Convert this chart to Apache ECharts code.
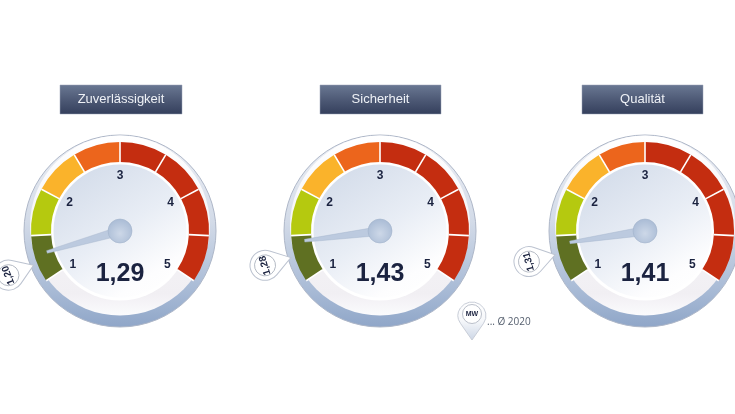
<!DOCTYPE html>
<html><head><meta charset="utf-8">
<style>html,body{margin:0;padding:0;background:#fff}#c{width:735px;height:414px}</style>
<script src="https://cdn.jsdelivr.net/npm/echarts@6/dist/echarts.min.js"></script>
</head><body><div id="c"></div>
<script>
const gaugeTitles = ['Zuverlässigkeit', 'Sicherheit', 'Qualität'];
const gaugeValues = [1.29, 1.43, 1.41];
const averageValues = [1.20, 1.28, 1.31];
const scaleLabels = [1, 2, 3, 4, 5];
const bandColors = ['#5f7022', '#b5c90f', '#fab32b', '#ec651c', '#c42d10', '#c42d10', '#c42d10', '#c42d10'];
const legendPin = 'MW';
const legendText = '... Ø 2020';

const centers = [[120, 231], [380, 231], [645, 231]];
const titleBoxes = [[60, 85, 122, 29], [320, 85, 121, 29], [582, 85, 121, 29]];
const FONT = '"Liberation Sans", Arial, sans-serif';
const comma = v => v.toFixed(2).replace('.', ',');
const lin = (x, y, x2, y2, stops) => ({type: 'linear', x, y, x2, y2,
  colorStops: stops.map(s => ({offset: s[0], color: s[1]}))});
const PIN = 'M0 0L-17.2 -11.6A14 14 0 1 0 -17.2 11.6Z';

const graphic = [];
centers.forEach((c, i) => {
  const [cx, cy] = c;
  const circle = (x, y, r, fill, stroke) => ({type: 'circle', silent: true, z: -10,
    shape: {cx: x, cy: y, r}, style: {fill, stroke: stroke || null, lineWidth: stroke ? 1 : 0}});
  graphic.push(
    circle(cx, cy, 96, lin(0, 0, 0, 1, [[0, '#eef0f5'], [.45, '#d3dbe8'], [.8, '#a9bbd6'], [1, '#8fa6c8']]), '#aeb7c8'),
    circle(cx, cy - 5.5, 90, lin(0, 0, 0, 1, [[0, '#ffffff'], [.55, '#f4f3f6'], [.88, '#f1eff3'], [1, '#fbfbfd']])),
    circle(cx, cy, 69.5, '#ffffff'),
    circle(cx, cy, 66.5, lin(.15, 0, .8, 1, [[0, '#d2dbe9'], [.5, '#e8edf5'], [.85, '#fdfdfe'], [1, '#ffffff']]))
  );
  const b = titleBoxes[i];
  graphic.push({type: 'rect', silent: true, z: -5,
    shape: {x: b[0], y: b[1], width: b[2], height: b[3]},
    style: {fill: lin(0, 0, 0, 1, [[0, '#6a7893'], [.5, '#4e5a76'], [1, '#343f5c']]), stroke: '#98a2b5', lineWidth: .5}});
  graphic.push({type: 'text', silent: true, z: -4, x: b[0] + b[2] / 2, y: b[1] + b[3] / 2,
    style: {text: gaugeTitles[i], fill: '#eef1f6', font: '13px ' + FONT, align: 'center', verticalAlign: 'middle'}});
});
graphic.push({type: 'text', silent: true, x: 487, y: 322,
  style: {text: legendText, font: '10px "Open Sans", sans-serif', fill: '#56606f', align: 'left', verticalAlign: 'middle'}});

const polar = [], angleAxis = [], radiusAxis = [], series = [];
centers.forEach((c, i) => {
  polar.push({center: c, radius: 96});
  angleAxis.push({polarIndex: i, type: 'value', min: 1, max: 5, startAngle: 214, endAngle: -34, show: false});
  radiusAxis.push({polarIndex: i, type: 'value', min: 0, max: 96, show: false});
  series.push({
    type: 'gauge', center: c, radius: 89, startAngle: 214, endAngle: -34, min: 1, max: 5, splitNumber: 8,
    axisLine: {lineStyle: {width: 20, color: bandColors.map((col, k) => [(k + 1) / bandColors.length, col])}},
    axisTick: {show: false},
    splitLine: {length: 20, distance: -20, lineStyle: {color: '#ffffff', width: 1.6}},
    axisLabel: {distance: 28, color: '#1b2340', fontFamily: FONT, fontWeight: 'bold', fontSize: 12,
      align: 'center', verticalAlign: 'middle',
      formatter: v => scaleLabels.includes(Math.round(v * 100) / 100) ? String(Math.round(v)) : ''},
    pointer: {icon: 'path://M3.5 0L6.5 0L10 100L0 100Z', length: 76, width: 9,
      itemStyle: {color: '#bccadf', borderColor: '#a3b3cb', borderWidth: .4}},
    anchor: {show: true, showAbove: true, size: 24, icon: 'circle',
      itemStyle: {color: {type: 'radial', x: .5, y: .6, r: .6, colorStops: [{offset: 0, color: '#cdd8e8'}, {offset: 1, color: '#a9bbd5'}]},
        borderColor: '#a3b3cb', borderWidth: .6}},
    title: {show: false},
    detail: {valueAnimation: false, offsetCenter: [0, 43], fontFamily: FONT, fontWeight: 'bold', fontSize: 25,
      color: '#1b2340', formatter: comma},
    data: [{value: gaugeValues[i]}],
    animation: false, silent: true
  });
  series.push({
    type: 'custom', coordinateSystem: 'polar', polarIndex: i, z: 5, silent: true, animation: false,
    data: [[93, averageValues[i]]],
    renderItem: (params, api) => {
      const v = api.value(1);
      const p = api.coord([api.value(0), v]);
      const theta = (214 - (v - 1) * 62) * Math.PI / 180;
      return {type: 'group', x: p[0], y: p[1], rotation: theta - Math.PI, children: [
        {type: 'path', shape: {pathData: PIN, x: -42, y: -15, width: 42, height: 30, layout: 'cover'},
         style: {fill: '#ffffff', stroke: '#bcc3d0', lineWidth: 1}},
        {type: 'circle', shape: {cx: -27, cy: 0, r: 10.5}, style: {fill: '#fff', stroke: '#aab0bc', lineWidth: .8}},
        {type: 'text', x: -27, y: 0, rotation: Math.PI / 2,
         style: {text: comma(v), font: 'bold 10px ' + FONT, fill: '#1b2340', align: 'center', verticalAlign: 'middle'}}
      ]};
    }
  });
});
series.push({
  type: 'custom', coordinateSystem: 'none', z: 5, silent: true, animation: false, data: [[0]],
  renderItem: () => ({type: 'group', x: 472, y: 340, rotation: -Math.PI / 2, children: [
    {type: 'path', shape: {pathData: PIN, x: -38, y: -14, width: 38, height: 28, layout: 'cover'},
     style: {fill: lin(1, 0, 0, 0, [[0, '#ccd6e6'], [.5, '#f5f7fa'], [1, '#ffffff']]), stroke: '#c9ced8', lineWidth: 1}},
    {type: 'circle', shape: {cx: -26, cy: 0, r: 9.5}, style: {fill: '#fff', stroke: '#aab0bc', lineWidth: .8}},
    {type: 'text', x: -26, y: 0, rotation: Math.PI / 2,
     style: {text: legendPin, font: 'bold 7px ' + FONT, fill: '#1b2340', align: 'center', verticalAlign: 'middle'}}
  ]})
});

const chart = echarts.init(document.getElementById('c'), null, {renderer: 'canvas'});
chart.setOption({animation: false, backgroundColor: '#ffffff', graphic, polar, angleAxis, radiusAxis, series});
</script></body></html>
